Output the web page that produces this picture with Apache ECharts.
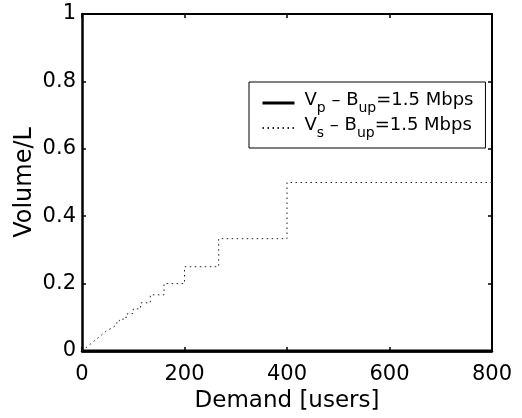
<!DOCTYPE html>
<html>
<head>
<meta charset="utf-8">
<script src="https://cdn.jsdelivr.net/npm/echarts@6/dist/echarts.min.js"></script>
<style>
  html, body { margin: 0; padding: 0; background: #fff; }
  #chart { width: 522px; height: 418px; }
</style>
</head>
<body>
<div id="chart"></div>
<script>
// V_s step curve (demand in users, volume as fraction of L)
const vsDemand = [0, 50, 53.3, 53.3, 57.1, 57.1, 61.5, 61.5, 66.7, 66.7, 72.7, 72.7, 80, 80, 88.9, 88.9, 100, 100, 114.3, 114.3, 133.3, 133.3, 160, 160, 200, 200, 266.7, 266.7, 400, 400, 800]
const vsVolume = [0, 0.0625, 0.0625, 0.0667, 0.0667, 0.0714, 0.0714, 0.0769, 0.0769, 0.0833, 0.0833, 0.0909, 0.0909, 0.1, 0.1, 0.1111, 0.1111, 0.125, 0.125, 0.1429, 0.1429, 0.1667, 0.1667, 0.2, 0.2, 0.25, 0.25, 0.3333, 0.3333, 0.5, 0.5]
// V_p stays at zero over the whole range
const vpDemand = [0, 800]
const vpVolume = [0, 0]

const seriesNames = ['Vp', 'Vs']
const legendLabels = {
  Vp: '{v|V}{s|p}{n| \u2013 B}{s|up}{n|=1.5 Mbps}',
  Vs: '{v|V}{s|s}{n| \u2013 B}{s|up}{n|=1.5 Mbps}'
}

const font = 'DejaVu Sans'
const zip = (xs, ys) => xs.map((x, i) => [x, ys[i]])

let chart = echarts.init(document.getElementById('chart'))
chart.setOption({
  animation: false,
  backgroundColor: '#fff',
  textStyle: { fontFamily: font, color: '#000' },
  grid: { left: 82, right: 30, top: 14, bottom: 67 },
  legend: {
    data: [
      { name: seriesNames[0], lineStyle: { width: 3 } },
      { name: seriesNames[1] }
    ],
    orient: 'vertical',
    left: 249,
    top: 82,
    padding: [9, 12, 8, 12],
    itemGap: 1,
    itemWidth: 32,
    itemHeight: 14,
    borderColor: '#000',
    borderWidth: 1,
    backgroundColor: '#fff',
    itemStyle: { opacity: 0 },
    formatter: name => legendLabels[name],
    textStyle: {
      fontFamily: font,
      color: '#000',
      rich: {
        v: { fontFamily: font, fontSize: 18, verticalAlign: 'top', lineHeight: 18, padding: [0, 0, 0, 5] },
        n: { fontFamily: font, fontSize: 18, verticalAlign: 'top', lineHeight: 18 },
        s: { fontFamily: font, fontSize: 14, verticalAlign: 'top', padding: [10, 0, 0, 0] }
      }
    }
  },
  xAxis: [
    {
      type: 'value',
      min: 0,
      max: 800,
      interval: 200,
      name: 'Demand [users]',
      nameLocation: 'middle',
      nameGap: 35,
      nameTextStyle: { fontFamily: font, fontSize: 23, color: '#000' },
      axisLine: { onZero: false, lineStyle: { color: '#000', width: 2.5 } },
      axisTick: { inside: true, length: 4, lineStyle: { color: '#000', width: 1.5 } },
      axisLabel: { fontFamily: font, fontSize: 21, color: '#000', margin: 13 },
      splitLine: { show: false }
    },
    {
      type: 'value',
      position: 'top',
      min: 0,
      max: 800,
      interval: 200,
      axisLine: { onZero: false, lineStyle: { color: '#000', width: 2 } },
      axisTick: { inside: true, length: 4, lineStyle: { color: '#000', width: 1.5 } },
      axisLabel: { show: false },
      splitLine: { show: false }
    }
  ],
  yAxis: [
    {
      type: 'value',
      min: 0,
      max: 1,
      interval: 0.2,
      name: 'Volume/L',
      nameLocation: 'middle',
      nameGap: 45,
      nameMoveOverlap: false,
      nameTextStyle: { fontFamily: font, fontSize: 24, color: '#000' },
      axisLine: { onZero: false, lineStyle: { color: '#000', width: 2.5 } },
      axisTick: { inside: true, length: 4, lineStyle: { color: '#000', width: 1.5 } },
      axisLabel: { fontFamily: font, fontSize: 21, color: '#000', margin: 6 },
      splitLine: { show: false }
    },
    {
      type: 'value',
      position: 'right',
      min: 0,
      max: 1,
      interval: 0.2,
      axisLine: { onZero: false, lineStyle: { color: '#000', width: 2 } },
      axisTick: { inside: true, length: 4, lineStyle: { color: '#000', width: 1.5 } },
      axisLabel: { show: false },
      splitLine: { show: false }
    }
  ],
  series: [
    {
      name: 'Vp',
      type: 'line',
      data: zip(vpDemand, vpVolume),
      symbol: 'none',
      clip: false,
      color: '#000',
      lineStyle: { color: '#000', width: 3 }
    },
    {
      name: 'Vs',
      type: 'line',
      data: zip(vsDemand, vsVolume),
      symbol: 'none',
      color: '#000',
      lineStyle: { color: '#222', width: 1, type: [1.5, 3.5] }
    }
  ]
})
</script>
</body>
</html>
